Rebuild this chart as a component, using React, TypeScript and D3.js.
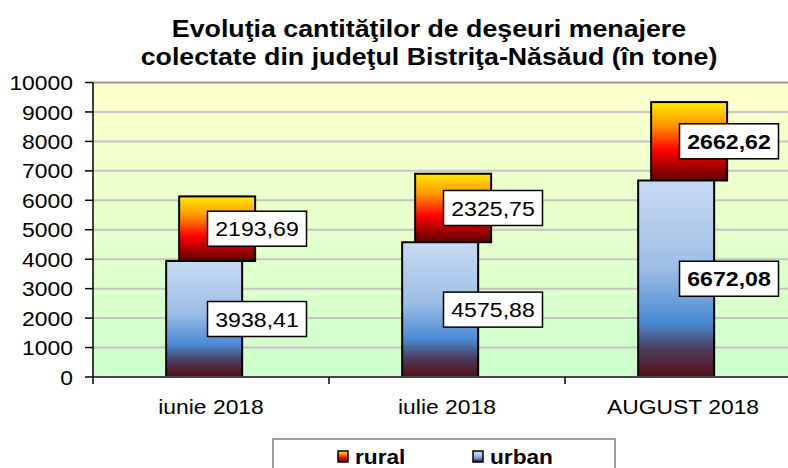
import * as d3 from 'd3'

const categories = ['iunie 2018', 'iulie 2018', 'AUGUST 2018']
const urban = [3938.41, 4575.88, 6672.08]
const rural = [2193.69, 2325.75, 2662.62]
const yTicks = [0, 1000, 2000, 3000, 4000, 5000, 6000, 7000, 8000, 9000, 10000]
const titleLines = [
  'Evoluţia cantităţilor de deşeuri menajere',
  'colectate din judeţul Bistriţa-Năsăud (în tone)',
]

const W = 788
const H = 468
const font = '"Liberation Sans", Arial, sans-serif'

const fmt = (v: number) => v.toFixed(2).replace('.', ',')

// the original glyphs look a bit wider than they are tall, so stretch horizontally
const SText = ({ x, y, sx = 1.1, anchor = 'start', size, bold = false, dy = '0', children }: any) => (
  <g transform={`translate(${x},${y}) scale(${sx},1)`}>
    <text x={0} y={0} dy={dy} textAnchor={anchor} fontFamily={font} fontSize={size}
      fontWeight={bold ? 'bold' : 'normal'} fill="#000">{children}</text>
  </g>
)

const App = () => {
  const y = d3.scaleLinear().domain([0, 10000]).range([377, 82.5])
  const x = d3.scaleBand().domain(categories).range([93, 801]).padding(0)
  const bw = x.bandwidth()
  const barW = bw * 0.322
  const shift = bw * 0.055
  const labelW = 99
  const labelH = 35

  return (
    <svg width={W} height={H} style={{ display: 'block', position: 'absolute', left: 0, top: 0 }}>
      <defs>
        <linearGradient id="plotBg" x1="0" y1="0" x2="0" y2="1">
          <stop offset="0%" stopColor="#ffffcc" />
          <stop offset="100%" stopColor="#ccffcc" />
        </linearGradient>
        <linearGradient id="gUrban" x1="0" y1="0" x2="0" y2="1">
          <stop offset="0%" stopColor="#c9dbf2" />
          <stop offset="45%" stopColor="#9dbde6" />
          <stop offset="72%" stopColor="#4a8ad4" />
          <stop offset="86%" stopColor="#4b3c5c" />
          <stop offset="100%" stopColor="#560c16" />
        </linearGradient>
        <linearGradient id="gRural" x1="0" y1="0" x2="0" y2="1">
          <stop offset="0%" stopColor="#ffec00" />
          <stop offset="30%" stopColor="#ff9400" />
          <stop offset="62%" stopColor="#ff0000" />
          <stop offset="100%" stopColor="#5c0000" />
        </linearGradient>
      </defs>
      <rect x={0} y={0} width={W} height={H} fill="#ffffff" />

      {/* title */}
      {titleLines.map((t, i) => (
        <SText key={t} x={429} y={37 + i * 28} sx={1.115} anchor="middle" size={24} bold>{t}</SText>
      ))}

      {/* plot area */}
      <rect x={93} y={y(10000)} width={801 - 93} height={y(0) - y(10000)} fill="url(#plotBg)" />
      {yTicks.filter(t => t > 0).map(t => (
        <line key={'g' + t} x1={93} x2={801} y1={y(t)} y2={y(t)}
          stroke={t === 10000 ? '#9a9a9a' : '#c4c4c4'} strokeWidth={2} />
      ))}

      {/* bars */}
      {categories.map((c, i) => {
        const x0 = (x(c) as number) + bw * 0.31
        const xr = x0 + shift
        const total = urban[i] + rural[i]
        return (
          <g key={c}>
            <rect x={xr} y={y(total)} width={barW} height={y(urban[i]) - y(total)}
              fill="url(#gRural)" stroke="#000" strokeWidth={2} />
            <rect x={x0} y={y(urban[i])} width={barW} height={y(0) - y(urban[i])}
              fill="url(#gUrban)" stroke="#000" strokeWidth={2} />
          </g>
        )
      })}

      {/* axes */}
      <line x1={93} x2={801} y1={y(0)} y2={y(0)} stroke="#444" strokeWidth={2} />
      <line x1={93} x2={93} y1={y(10000)} y2={384} stroke="#000" strokeWidth={1.5} />
      {yTicks.map(t => (
        <g key={'t' + t}>
          <line x1={85} x2={93} y1={y(t)} y2={y(t)} stroke="#000" strokeWidth={1.5} />
          <SText x={73} y={y(t)} dy="0.36em" anchor="end" size={21} sx={1.09}>{t}</SText>
        </g>
      ))}
      {categories.map((c, i) => (
        <g key={'x' + c}>
          {i > 0 && <line x1={x(c) as number} x2={x(c) as number} y1={y(0)} y2={384}
            stroke="#000" strokeWidth={1.5} />}
          <SText x={(x(c) as number) + bw / 2} y={414} anchor="middle" size={21} sx={1.09}>{c}</SText>
        </g>
      ))}

      {/* data labels */}
      {categories.map((c, i) => {
        const cx = (x(c) as number) + bw / 2 + 46
        const total = urban[i] + rural[i]
        const bold = i === 2
        const items = [
          { v: urban[i], cy: (y(0) + y(urban[i])) / 2 },
          { v: rural[i], cy: (y(urban[i]) + y(total)) / 2 },
        ]
        return items.map((d, j) => (
          <g key={c + j}>
            <rect x={cx - labelW / 2} y={d.cy - labelH / 2} width={labelW} height={labelH}
              fill="#fff" stroke="#000" strokeWidth={1.5} />
            <SText x={cx} y={d.cy} dy="0.36em" anchor="middle" size={21} sx={1.1} bold={bold}>
              {fmt(d.v)}
            </SText>
          </g>
        ))
      })}

      {/* legend */}
      <rect x={273} y={439} width={342} height={40} fill="#fff" stroke="#808080" strokeWidth={1.5} />
      {[
        { name: 'rural', fill: 'url(#gRural)', mx: 338 },
        { name: 'urban', fill: 'url(#gUrban)', mx: 473 },
      ].map(l => (
        <g key={l.name}>
          <rect x={l.mx} y={451} width={10} height={11} fill={l.fill} stroke="#000" strokeWidth={1.5} />
          <SText x={l.mx + 17} y={464} size={21} sx={1.08} bold>{l.name}</SText>
        </g>
      ))}
    </svg>
  )
}

export default App
